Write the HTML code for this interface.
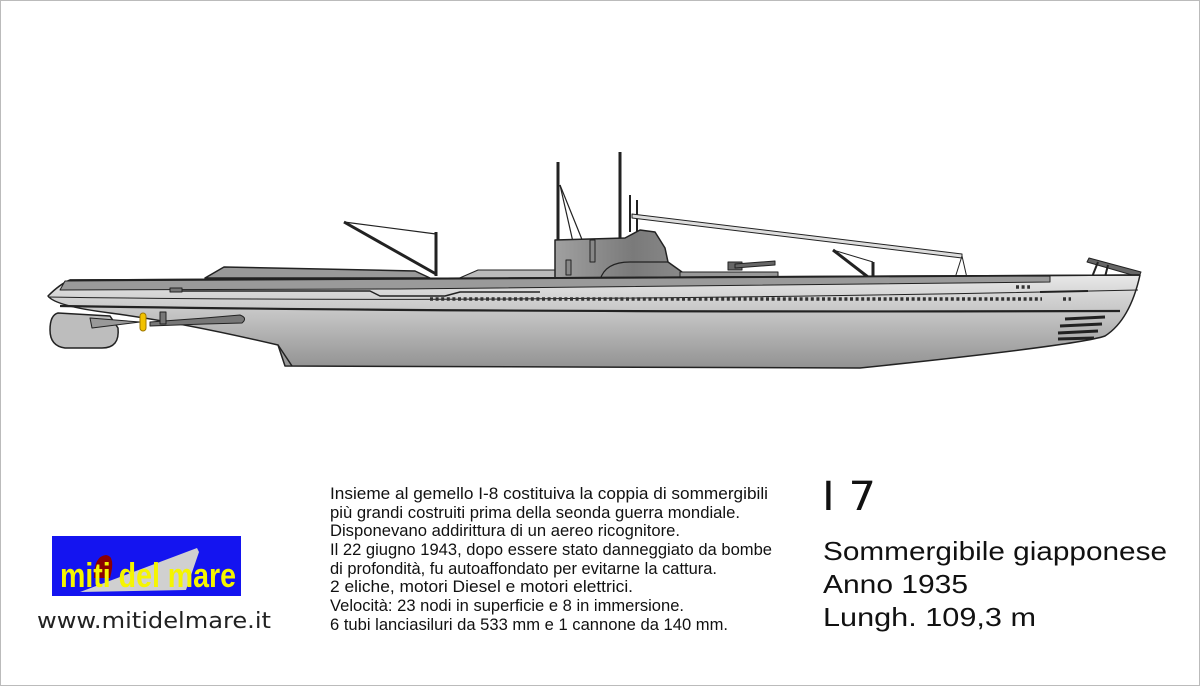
<!DOCTYPE html>
<html><head><meta charset="utf-8"><style>
html,body{margin:0;padding:0;background:#fff}
svg{display:block}
text{font-family:"Liberation Sans",sans-serif}
</style></head><body>
<svg width="1200" height="686" viewBox="0 0 1200 686" xmlns="http://www.w3.org/2000/svg">
<defs>
<linearGradient id="hull" x1="0" y1="0" x2="0" y2="1">
<stop offset="0" stop-color="#e8e8e8"/><stop offset="1" stop-color="#929292"/></linearGradient>
<linearGradient id="tower" x1="0" y1="0" x2="1" y2="0">
<stop offset="0" stop-color="#a0a0a0"/><stop offset="0.6" stop-color="#7a7a7a"/><stop offset="1" stop-color="#8a8a8a"/></linearGradient>
</defs>
<rect x="0.5" y="0.5" width="1199" height="685" fill="#fff" stroke="#bbb"/>
<g stroke="#222" stroke-width="1.5" stroke-linejoin="round">
<line x1="558" y1="162" x2="558" y2="242" stroke-width="3"/>
<line x1="560" y1="185" x2="583" y2="242" stroke-width="1.2"/>
<line x1="560" y1="185" x2="573" y2="242" stroke-width="1.2"/>
<line x1="620" y1="152" x2="620" y2="240" stroke-width="3"/>
<line x1="630" y1="195" x2="630" y2="232" stroke-width="2"/>
<line x1="637" y1="200" x2="637" y2="232" stroke-width="2"/>
<path d="M632 214 L962 254 L962 258 L632 218 Z" fill="#ddd" stroke-width="1"/>
<line x1="962" y1="256" x2="955" y2="278" stroke-width="1"/>
<line x1="962" y1="256" x2="967" y2="278" stroke-width="1"/>
<line x1="344" y1="222" x2="436" y2="274" stroke-width="3"/>
<line x1="344" y1="222" x2="436" y2="234" stroke-width="1.2"/>
<line x1="436" y1="232" x2="436" y2="276" stroke-width="3"/>
<line x1="833" y1="250" x2="868" y2="277" stroke-width="3"/>
<line x1="833" y1="250" x2="873" y2="262" stroke-width="1"/>
<line x1="873" y1="262" x2="873" y2="278" stroke-width="3"/>
<path d="M1089 258 L1141 272 L1139 277 L1087 262 Z" fill="#666" stroke-width="1"/>
<line x1="1098" y1="262" x2="1092" y2="277" stroke-width="2"/>
<line x1="1108" y1="265" x2="1105" y2="277" stroke-width="2"/>
<path d="M205 278 L224 267 L415 271 L430 278 Z" fill="#999"/>
<path d="M455 280 L478 270 L560 270 L560 280 Z" fill="#bbb" stroke-width="1"/>
<path d="M555 280 L555 240 L625 238 L640 230 L655 232 L665 248 L668 262 L682 272 L685 282 Z" fill="url(#tower)"/>
<path d="M600 280 Q605 262 630 262 L668 262" fill="none" stroke-width="1.2"/>
<rect x="566" y="260" width="5" height="15" fill="#888" stroke-width="1"/>
<rect x="590" y="240" width="5" height="22" fill="#888" stroke-width="1"/>
<path d="M680 272 L778 272 L778 281 L680 281 Z" fill="#999" stroke-width="1"/>
<path d="M742 270 L742 262 L728 262 L728 270 Z" fill="#666" stroke-width="1"/>
<path d="M735 264 L775 261 L775 265 L735 268 Z" fill="#666" stroke-width="1"/>
<path d="M48 296 Q60 284 70 280 L1140 275 Q1130 320 1105 336 Q1080 345 860 368 L285 366 L278 345 Q180 322 110 313 Q55 306 48 296 Z" fill="url(#hull)"/>
<path d="M65 281 L1050 276 L1050 282 Q700 286 400 289 L60 290 Z" fill="#9a9a9a" stroke-width="1"/>
<path d="M70 280 L1140 275" fill="none"/>
<path d="M278 345 L292 366" fill="none"/>
<path d="M48 297 Q500 304 1138 290" fill="none" stroke-width="1"/>
<path d="M60 306 Q500 313 1120 311" fill="none" stroke-width="2.2"/>
<path d="M175 291 L370 291 L380 296 L445 296 L460 292 L540 292" fill="none" stroke-width="1.5"/>
<path d="M58 313 L110 316 L118 328 Q120 348 102 348 L65 348 Q50 346 50 330 Q50 315 58 313 Z" fill="#bdbdbd"/>
<path d="M90 318 L140 322 L92 328 Z" fill="#999" stroke-width="1"/>
<path d="M150 322 L205 318 L240 315 Q248 318 242 323 L205 324 L150 326 Z" fill="#777" stroke-width="1"/>
<rect x="160" y="312" width="6" height="12" fill="#777" stroke-width="1"/>
<rect x="140" y="313" width="6" height="18" rx="3" fill="#f2c200" stroke="#a07800" stroke-width="1"/>
<path d="M1065 319 L1105 317 M1060 326 L1102 324 M1058 333 L1098 331 M1058 339 L1094 338" fill="none" stroke-width="3"/>
<path d="M1040 292 L1088 291" stroke-width="2"/>
<rect x="170" y="288" width="12" height="4" fill="#777" stroke-width="1"/>
</g>
<line x1="430" y1="299" x2="1042" y2="299" stroke="#333" stroke-width="3.5" stroke-dasharray="3 2.6"/>
<line x1="1016" y1="287" x2="1030" y2="287" stroke="#333" stroke-width="3.5" stroke-dasharray="3 2.6"/>
<line x1="1063" y1="299" x2="1071" y2="299" stroke="#333" stroke-width="3.5" stroke-dasharray="3 2.6"/>
<g font-size="16.5" fill="#111" lengthAdjust="spacingAndGlyphs">
<text x="330" y="499" textLength="438" lengthAdjust="spacingAndGlyphs">Insieme al gemello I-8 costituiva la coppia di sommergibili</text>
<text x="330" y="518" textLength="410" lengthAdjust="spacingAndGlyphs">più grandi costruiti prima della seonda guerra mondiale.</text>
<text x="330" y="536" textLength="350" lengthAdjust="spacingAndGlyphs">Disponevano addirittura di un aereo ricognitore.</text>
<text x="330" y="555" textLength="442" lengthAdjust="spacingAndGlyphs">Il 22 giugno 1943, dopo essere stato danneggiato da bombe</text>
<text x="330" y="574" textLength="387" lengthAdjust="spacingAndGlyphs">di profondità, fu autoaffondato per evitarne la cattura.</text>
<text x="330" y="592" textLength="303" lengthAdjust="spacingAndGlyphs">2 eliche, motori Diesel e motori elettrici.</text>
<text x="330" y="611" textLength="354" lengthAdjust="spacingAndGlyphs">Velocità: 23 nodi in superficie e 8 in immersione.</text>
<text x="330" y="630" textLength="398" lengthAdjust="spacingAndGlyphs">6 tubi lanciasiluri da 533 mm e 1 cannone da 140 mm.</text>
</g>
<text x="822" y="510" font-size="40" fill="#111" textLength="54" lengthAdjust="spacingAndGlyphs" style="font-family:'DejaVu Sans',sans-serif">I 7</text>
<g font-size="26" fill="#111" style="font-family:'DejaVu Sans',sans-serif">
<text x="823" y="560" textLength="344" lengthAdjust="spacingAndGlyphs">Sommergibile giapponese</text>
<text x="823" y="593" textLength="145" lengthAdjust="spacingAndGlyphs">Anno 1935</text>
<text x="823" y="626" textLength="213" lengthAdjust="spacingAndGlyphs">Lungh. 109,3 m</text>
</g>
<rect x="52" y="536" width="189" height="60" fill="#1414f0"/>
<path d="M80 592 L197 548 L199 552 L186 590 Z" fill="#d0d0d0"/>
<path d="M94 578 Q94 556 106 555 Q116 556 110 578 Z" fill="#8b0000"/>
<text x="60" y="587" font-size="34" font-weight="bold" fill="#f5f500" textLength="176" lengthAdjust="spacingAndGlyphs">miti del mare</text>
<text x="37" y="628" font-size="22" fill="#222" textLength="234" lengthAdjust="spacingAndGlyphs" style="font-family:'DejaVu Sans',sans-serif">www.mitidelmare.it</text>
</svg>
</body></html>
